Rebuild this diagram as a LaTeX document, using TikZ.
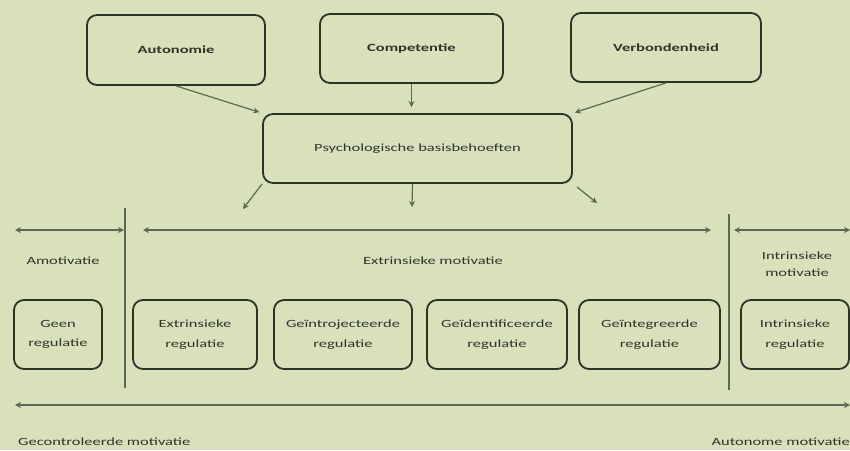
\documentclass[tikz,border=0pt]{standalone}
\usepackage{fontspec}
\setmainfont{Carlito}[FakeStretch=1.5]
\usetikzlibrary{arrows.meta}
\definecolor{bg}{HTML}{D8E1BC}
\definecolor{ln}{HTML}{2E3327}
\definecolor{ar}{HTML}{5E6654}
\definecolor{tx}{HTML}{30342A}
\begin{document}
\begin{tikzpicture}[x=1pt,y=-1pt,
  box/.style={draw=ln, line width=1.8pt, rounded corners=10pt, inner sep=0pt, align=center, text=tx, minimum height=69pt, font=\fontsize{11}{19.5}\selectfont},
  arr/.style={draw=ar, line width=1.2pt, -{Stealth[length=6pt,width=6pt]}},
  dbl/.style={draw=ar, line width=2.2pt, {Stealth[length=6pt,width=6pt]}-{Stealth[length=6pt,width=6pt]}},
  sep/.style={draw=ar, line width=1.5pt},
  lbl/.style={text=tx, align=center, inner sep=0pt, font=\fontsize{11}{17.5}\selectfont}]
\fill[bg] (0,0) rectangle (850,450);
\useasboundingbox (0,0) rectangle (850,450);
% top boxes
\node[box, minimum width=178pt, minimum height=70pt] (aut) at (176,50) {\textbf{Autonomie}};
\node[box, minimum width=183pt] (comp) at (411.5,48.5) {\textbf{Competentie}};
\node[box, minimum width=190pt] (verb) at (666,47.5) {\textbf{Verbondenheid}};
\node[box, minimum width=309pt] (psy) at (417.5,148.5) {Psychologische basisbehoeften};
% arrows in
\draw[arr, shorten >=3pt] (aut.south) -- (psy.north west);
\draw[arr, shorten >=6pt] (comp.south) -- (comp.south |- psy.north);
\draw[arr, shorten >=2pt] (verb.south) -- (psy.north east);
% arrows out
\coordinate (d1) at (243,209);
\coordinate (d2) at (412,207);
\coordinate (d3) at (597,203);
\draw[arr] (psy.south west) -- (d1);
\draw[arr] ([xshift=-5pt]psy.south) -- (d2);
\draw[arr] ([xshift=4pt,yshift=-3pt]psy.south east) -- (d3);
% separators
\coordinate (v1t) at (125,208); \coordinate (v1b) at (125,388);
\coordinate (v2t) at (729,214); \coordinate (v2b) at (729,390);
\draw[sep] (v1t) -- (v1b);
\draw[sep] (v2t) -- (v2b);
% double arrows
\coordinate (a1l) at (15,230); \coordinate (a1r) at (124,230);
\coordinate (a2l) at (143,230); \coordinate (a2r) at (711,230);
\coordinate (a3l) at (734,230); \coordinate (a3r) at (850,230);
\coordinate (bl) at (15,405); \coordinate (br) at (850,405);
\draw[dbl] (a1l) -- (a1r);
\draw[dbl] (a2l) -- (a2r);
\draw[dbl] (a3l) -- (a3r);
\draw[dbl] (bl) -- (br);
% labels
\node[lbl] (amo) at (63,261) {Amotivatie};
\node[lbl] (extm) at (433,261) {Extrinsieke motivatie};
\node[lbl] (intm) at (797,264) {Intrinsieke\\motivatie};
\node[lbl, anchor=west] (gec) at (18,442) {Gecontroleerde motivatie};
\node[lbl, anchor=east] (auto) at (850,442) {Autonome motivatie};
% bottom boxes
\node[box, minimum width=88pt] (geen) at (58,334.5) {Geen\\regulatie};
\node[box, minimum width=124pt] (extr) at (195,334.5) {Extrinsieke\\regulatie};
\node[box, minimum width=138pt] (intro) at (343,334.5) {Geïntrojecteerde\\regulatie};
\node[box, minimum width=140pt] (ident) at (497,334.5) {Geïdentificeerde\\regulatie};
\node[box, minimum width=141pt] (integ) at (649.5,334.5) {Geïntegreerde\\regulatie};
\node[box, minimum width=108pt] (intr) at (795,334.5) {Intrinsieke\\regulatie};
\end{tikzpicture}
\end{document}
